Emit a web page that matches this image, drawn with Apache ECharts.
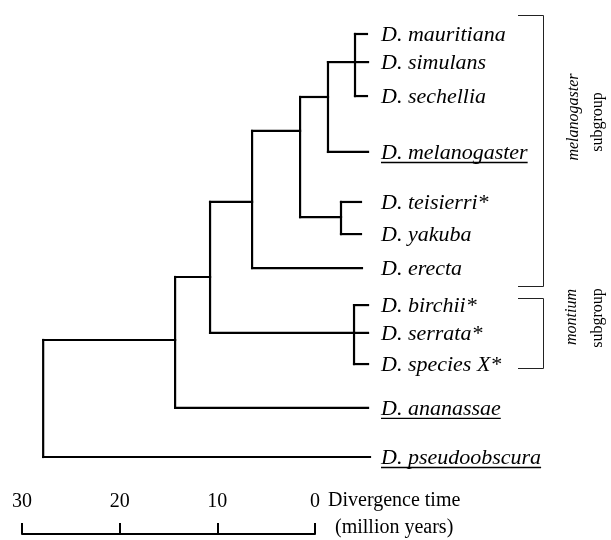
<!DOCTYPE html>
<html><head><meta charset="utf-8">
<script src="https://cdn.jsdelivr.net/npm/echarts@6/dist/echarts.min.js"></script>
<style>html,body{margin:0;background:#fff}#c{width:611px;height:540px}</style>
</head><body><div id="c"></div>
<script>
// ---- leaves (tips) ----
const leafNames = ['D. mauritiana', 'D. simulans', 'D. sechellia', 'D. melanogaster', 'D. teisierri*', 'D. yakuba', 'D. erecta', 'D. birchii*', 'D. serrata*', 'D. species X*', 'D. ananassae', 'D. pseudoobscura'];
const leafRow = [0, 0.91, 2.01, 3.82, 5.44, 6.48, 7.58, 8.78, 9.68, 10.69, 12.11, 13.7];
const leafTipAge = [0.31, 0.2, 0.31, 0.2, 0.92, 0.92, 0.82, 0.2, 0.2, 0.2, 0.2, 0];
const leafUnderlined = [false, false, false, true, false, false, false, false, false, false, true, true];

// ---- internal nodes (divergence times, million years) ----
const nodeNames = ['simClade', 'E', 'tyClade', 'D', 'C', 'montClade', 'B', 'A', 'root'];
const nodeAge = [1.53, 4.29, 2.96, 7.14, 12.04, 1.63, 16.33, 19.9, 33.37];
const nodeRow = [0.91, 2.04, 5.93, 3.14, 5.44, 9.68, 7.87, 9.91, 11.0];
const nodeChildren = [
  ['D. mauritiana', 'D. simulans', 'D. sechellia'],
  ['simClade', 'D. melanogaster'],
  ['D. teisierri*', 'D. yakuba'],
  ['E', 'tyClade'],
  ['D', 'D. erecta'],
  ['D. birchii*', 'D. serrata*', 'D. species X*'],
  ['C', 'montClade'],
  ['B', 'D. ananassae'],
  ['A', 'D. pseudoobscura']
];

// ---- scale bar ----
const scaleTicks = [0, 10, 20, 30];
const scaleTitle = ['Divergence time', '(million years)'];

// ---- groups ----
const groupTitles = [['melanogaster', 'subgroup'], ['montium', 'subgroup']];

const FONT = '"Liberation Serif", "Times New Roman", serif';

const pos = {};
leafNames.forEach((n, i) => pos[n] = { age: leafTipAge[i], row: leafRow[i] });
nodeNames.forEach((n, i) => pos[n] = { age: nodeAge[i], row: nodeRow[i] });

const segments = [];
nodeNames.forEach((n, i) => {
  const rows = nodeChildren[i].map(c => pos[c].row);
  segments.push([nodeAge[i], Math.min(...rows), nodeAge[i], Math.max(...rows)]);
  nodeChildren[i].forEach(c => segments.push([nodeAge[i], pos[c].row, pos[c].age, pos[c].row]));
});

const labelData = leafNames.map((n, i) => [0, leafRow[i], i]);

const ctx = document.createElement('canvas').getContext('2d');
function textWidth(t, font) { ctx.font = font; return ctx.measureText(t).width; }

const chart = echarts.init(document.getElementById('c'), null, { renderer: 'canvas' });
chart.setOption({
  animation: false,
  backgroundColor: '#fff',
  grid: [
    { left: 37, right: 241, top: 34, bottom: 83 },
    { left: 22, right: 296, top: 533, height: 1 }
  ],
  xAxis: [
    { gridIndex: 0, type: 'value', min: 0, max: 34, inverse: true, show: false },
    { gridIndex: 1, type: 'value', min: 0, max: 30, interval: 10, inverse: true, position: 'top',
      axisLine: { show: true, lineStyle: { color: '#000', width: 2 } },
      axisTick: { show: true, length: 11, lineStyle: { color: '#000', width: 2 } },
      axisLabel: { show: true, color: '#000', fontSize: 20, fontFamily: FONT, margin: 21,
        formatter: v => scaleTicks.includes(v) ? String(v) : '' },
      splitLine: { show: false } }
  ],
  yAxis: [
    { gridIndex: 0, type: 'value', min: 0, max: 13.7, inverse: true, show: false },
    { gridIndex: 1, type: 'value', min: 0, max: 1, show: false }
  ],
  series: [
    {
      type: 'custom', xAxisIndex: 0, yAxisIndex: 0, clip: false,
      data: segments,
      encode: { x: [0, 2], y: [1, 3] },
      renderItem: (params, api) => {
        const p1 = api.coord([api.value(0), api.value(1)]);
        const p2 = api.coord([api.value(2), api.value(3)]);
        return { type: 'line', shape: { x1: p1[0], y1: p1[1], x2: p2[0], y2: p2[1] },
          style: { stroke: '#000', lineWidth: 2.2, lineCap: 'square' } };
      }
    },
    {
      type: 'custom', xAxisIndex: 0, yAxisIndex: 0, clip: false,
      data: labelData,
      encode: { x: 0, y: 1 },
      renderItem: (params, api) => {
        const i = api.value(2);
        const p = api.coord([api.value(0), api.value(1)]);
        const x = p[0] + 11, y = p[1];
        const name = leafNames[i];
        const children = [{ type: 'text', style: { x: x, y: y + 1, text: name, fill: '#000',
          font: 'italic 22px ' + FONT, align: 'left', verticalAlign: 'middle' } }];
        if (leafUnderlined[i]) {
          const w = textWidth(name, 'italic 22px ' + FONT);
          children.push({ type: 'line', shape: { x1: x, y1: y + 10.5, x2: x + w, y2: y + 10.5 },
            style: { stroke: '#000', lineWidth: 1.4 } });
        }
        return { type: 'group', children: children };
      }
    },
    { type: 'custom', xAxisIndex: 1, yAxisIndex: 1, data: [], renderItem: () => null }
  ],
  graphic: [
    { type: 'text', x: 328, y: 501, style: { text: scaleTitle[0], font: '20px ' + FONT, fill: '#000', verticalAlign: 'middle' } },
    { type: 'text', x: 335, y: 528, style: { text: scaleTitle[1], font: '20px ' + FONT, fill: '#000', verticalAlign: 'middle' } },
    { type: 'polyline', shape: { points: [[518, 15.5], [543.5, 15.5], [543.5, 286.5], [518, 286.5]] }, style: { stroke: '#222', lineWidth: 1, fill: null } },
    { type: 'polyline', shape: { points: [[518, 298.5], [543.5, 298.5], [543.5, 368.5], [518, 368.5]] }, style: { stroke: '#222', lineWidth: 1, fill: null } },
    { type: 'text', x: 574, y: 117, rotation: Math.PI / 2, style: { text: groupTitles[0][0], font: 'italic 16px ' + FONT, fill: '#000', align: 'center', verticalAlign: 'middle' } },
    { type: 'text', x: 598, y: 122, rotation: Math.PI / 2, style: { text: groupTitles[0][1], font: '16px ' + FONT, fill: '#000', align: 'center', verticalAlign: 'middle' } },
    { type: 'text', x: 572, y: 317, rotation: Math.PI / 2, style: { text: groupTitles[1][0], font: 'italic 16px ' + FONT, fill: '#000', align: 'center', verticalAlign: 'middle' } },
    { type: 'text', x: 598, y: 318, rotation: Math.PI / 2, style: { text: groupTitles[1][1], font: '16px ' + FONT, fill: '#000', align: 'center', verticalAlign: 'middle' } }
  ]
});
</script></body></html>
